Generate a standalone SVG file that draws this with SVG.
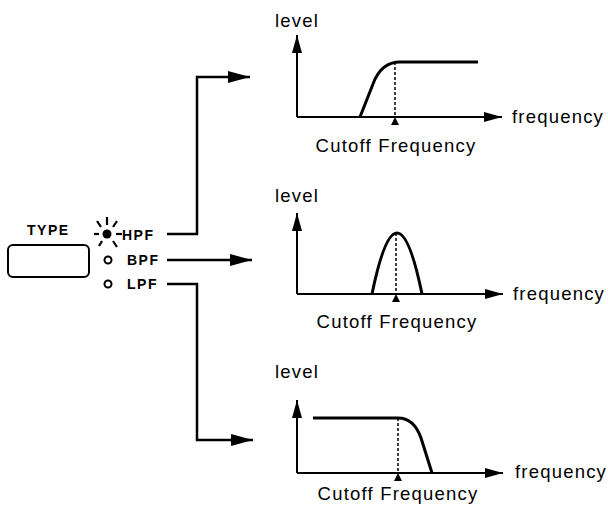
<svg xmlns="http://www.w3.org/2000/svg" width="608" height="510" viewBox="0 0 608 510">
<style>
.lbl{font-family:"Liberation Sans",Arial,sans-serif;font-size:18.5px;letter-spacing:1.2px;fill:#000}
.sw{font-family:"Liberation Sans",Arial,sans-serif;font-size:14px;font-weight:bold;letter-spacing:1.5px;fill:#000}
.axis{stroke:#000;stroke-width:2;fill:none}
.curve{stroke:#000;stroke-width:3;fill:none;stroke-linejoin:round}
.dash{stroke:#000;stroke-width:1.5;stroke-dasharray:3 2;fill:none}
.conn{stroke:#000;stroke-width:2.5;fill:none}
.ray{stroke:#000;stroke-width:2.2}
</style>
<defs>
<marker id="arr" markerUnits="userSpaceOnUse" markerWidth="22" markerHeight="12" refX="22" refY="6" orient="auto"><path d="M0,0 L22,6 L0,12 z" fill="#000"/></marker>
<marker id="ax" markerUnits="userSpaceOnUse" markerWidth="18" markerHeight="10" refX="18" refY="5" orient="auto"><path d="M0,0 L18,5 L0,10 z" fill="#000"/></marker>
</defs>
<rect width="608" height="510" fill="#fff"/>

<g id="type-switch">
<text class="sw" x="27" y="235">TYPE</text>
<rect x="8" y="245" width="81" height="32" rx="5" fill="none" stroke="#000" stroke-width="2"/>
</g>

<g id="hpf">
<circle cx="107" cy="234" r="4.5" fill="#000"/>
<line class="ray" x1="94" y1="234" x2="99" y2="234"/>
<line class="ray" x1="107" y1="217" x2="107" y2="225"/>
<line class="ray" x1="97" y1="221" x2="101" y2="227"/>
<line class="ray" x1="117" y1="221" x2="113" y2="227"/>
<line class="ray" x1="99" y1="246" x2="102" y2="241"/>
<line class="ray" x1="117" y1="247" x2="113" y2="241"/>
<line class="ray" x1="116" y1="234" x2="122" y2="234"/>
<text class="sw" x="122" y="240">HPF</text>
</g>
<g id="bpf">
<circle cx="108" cy="260" r="3.5" fill="none" stroke="#000" stroke-width="2"/>
<text class="sw" x="127" y="265">BPF</text>
</g>
<g id="lpf">
<circle cx="108" cy="284" r="3.5" fill="none" stroke="#000" stroke-width="2"/>
<text class="sw" x="127" y="289">LPF</text>
</g>

<g id="connectors">
<polyline class="conn" points="167,234 197,234 197,77 250,77" marker-end="url(#arr)"/>
<polyline class="conn" points="167,260 252,260" marker-end="url(#arr)"/>
<polyline class="conn" points="167,284 197,284 197,440 253,440" marker-end="url(#arr)"/>
</g>

<g id="graph-hpf">
<text class="lbl" x="275" y="27">level</text>
<line class="axis" x1="297" y1="117" x2="297" y2="35" marker-end="url(#ax)"/>
<line class="axis" x1="297" y1="117" x2="502" y2="117" marker-end="url(#ax)"/>
<path class="curve" d="M360,117 L373,84 Q381,62 400,62 L478,62"/>
<line class="dash" x1="395" y1="62" x2="395" y2="117"/>
<polygon points="395,117 399,125 391,125" fill="#000"/>
<text class="lbl" x="512" y="123">frequency</text>
<text class="lbl" x="396" y="152" text-anchor="middle">Cutoff Frequency</text>
</g>

<g id="graph-bpf">
<text class="lbl" x="275" y="202">level</text>
<line class="axis" x1="297" y1="294" x2="297" y2="213" marker-end="url(#ax)"/>
<line class="axis" x1="297" y1="294" x2="503" y2="294" marker-end="url(#ax)"/>
<path class="curve" d="M372,294 Q397,172 422,294"/>
<line class="dash" x1="396" y1="233" x2="396" y2="294"/>
<polygon points="396,294 400,302 392,302" fill="#000"/>
<text class="lbl" x="513" y="300">frequency</text>
<text class="lbl" x="397" y="328" text-anchor="middle">Cutoff Frequency</text>
</g>

<g id="graph-lpf">
<text class="lbl" x="275" y="378">level</text>
<line class="axis" x1="297" y1="473" x2="297" y2="400" marker-end="url(#ax)"/>
<line class="axis" x1="297" y1="473" x2="503" y2="473" marker-end="url(#ax)"/>
<path class="curve" d="M313,418 L398,418 Q414,418 421,438 L432,473"/>
<line class="dash" x1="398" y1="418" x2="398" y2="473"/>
<polygon points="398,473 402,481 394,481" fill="#000"/>
<text class="lbl" x="515" y="478">frequency</text>
<text class="lbl" x="398" y="500" text-anchor="middle">Cutoff Frequency</text>
</g>
</svg>
